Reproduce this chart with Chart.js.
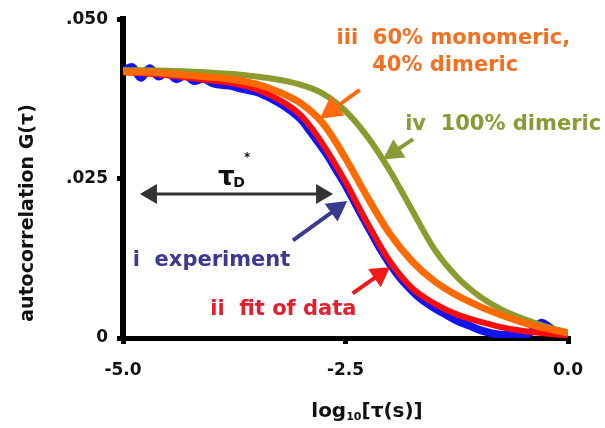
<!DOCTYPE html>
<html>
<head>
<meta charset="utf-8">
<script src="https://cdn.jsdelivr.net/npm/chart.js@4"></script>
<style>
  html, body { margin: 0; padding: 0; background: #fff; }
  canvas { display: block; }
</style>
</head>
<body>
<canvas id="fcsChart" width="605" height="428"></canvas>
<script>
// Curvas de autocorrelación
const logTau = [-5, -4.75, -4.5, -4.25, -4, -3.75, -3.5, -3.25, -3, -2.75, -2.5,
  -2.25, -2, -1.75, -1.5, -1.25, -1, -0.75, -0.5, -0.25, 0];
const fitG = [0.0417, 0.0415, 0.0412, 0.0408, 0.0404, 0.0399, 0.0390, 0.0374, 0.0349, 0.0303, 0.0245,
  0.0179, 0.0120, 0.0078, 0.0054, 0.0037, 0.0026, 0.0017, 0.0011, 0.0007, 0.0004];
const monoDimerG = [0.0418, 0.0417, 0.0415, 0.0412, 0.0409, 0.0405, 0.0398, 0.0386, 0.0368, 0.0336, 0.0282,
  0.0220, 0.0163, 0.0120, 0.0089, 0.0067, 0.0050, 0.0036, 0.0024, 0.0015, 0.0008];
const dimerG = [0.0420, 0.0420, 0.0419, 0.0418, 0.0416, 0.0414, 0.0410, 0.0405, 0.0397, 0.0383, 0.0356,
  0.0315, 0.0262, 0.0200, 0.0139, 0.0096, 0.0066, 0.0045, 0.0030, 0.0018, 0.0009];

// Datos experimentales
const expLogTau = [
  -5.0, -4.9, -4.8, -4.7, -4.6, -4.5, -4.4, -4.3, -4.2, -4.1,
  -4.0, -3.9, -3.8, -3.7, -3.6, -3.5, -3.4, -3.3, -3.2, -3.1,
  -3.0, -2.9, -2.8, -2.7, -2.6, -2.5, -2.4, -2.3, -2.2, -2.1,
  -2.0, -1.9, -1.8, -1.7, -1.6, -1.5, -1.4, -1.3, -1.2, -1.1,
  -1.0, -0.9, -0.8, -0.7, -0.6, -0.5, -0.4, -0.3, -0.2, -0.1, 0.0
];
const expG = [
  0.0418, 0.0425, 0.0408, 0.0423, 0.0410, 0.0417, 0.0406, 0.0412, 0.0403, 0.0407,
  0.0400, 0.0397, 0.0396, 0.0392, 0.0389, 0.0386, 0.0380, 0.0373, 0.0365, 0.0355,
  0.0343, 0.0325, 0.0306, 0.0286, 0.0263, 0.0240, 0.0214, 0.0188, 0.0163, 0.0138,
  0.0116, 0.0097, 0.0081, 0.0067, 0.0056, 0.0047, 0.0039, 0.0031, 0.0024, 0.0019,
  0.0013, 0.0009, 0.0006, 0.0005, 0.0007, 0.0004, 0.0011, 0.0024, 0.0016, 0.0005, 0.0002
];

// Ejes
const xTicks = [-5, -2.5, 0];
const xTickLabels = ['-5.0', '-2.5', '0.0'];
const yTicks = [0, 0.025, 0.05];
const yTickLabels = ['0', '.025', '.050'];

const FONT = '"DejaVu Sans", sans-serif';

const toPoints = (xs, ys) => xs.map((x, i) => ({ x: x, y: ys[i] }));

// Anotaciones (coordenadas en unidades de los ejes)
const notes = [
  { text: 'iii  60% monomeric,', x: -2.60, y: 0.0469, color: '#F36F21' },
  { text: '40% dimeric', x: -2.20, y: 0.0428, color: '#F36F21' },
  { text: 'iv  100% dimeric', x: -1.83, y: 0.0335, color: '#8C9A35' },
  { text: 'i  experiment', x: -4.89, y: 0.0122, color: '#3A3A8E' },
  { text: 'ii  fit of data', x: -4.02, y: 0.0044, color: '#E5202E' },
];
const arrows = [
  { from: [-4.81, 0.0226], to: [-2.64, 0.0226], color: '#333333', width: 3, len: 17, half: 10, both: true },
  { from: [-3.09, 0.0153], to: [-2.48, 0.0215], color: '#3A3A8E', width: 4, len: 20, half: 11 },
  { from: [-2.42, 0.0070], to: [-2.00, 0.0111], color: '#F01818', width: 4, len: 19, half: 11 },
  { from: [-2.34, 0.0389], to: [-2.79, 0.0344], color: '#FF6A10', width: 4, len: 22, half: 12 },
  { from: [-1.74, 0.0312], to: [-2.08, 0.0280], color: '#8C9A35', width: 4, len: 20, half: 11 },
];

function drawHead(ctx, x0, y0, x1, y1, len, half) {
  const a = Math.atan2(y1 - y0, x1 - x0);
  ctx.beginPath();
  ctx.moveTo(x1, y1);
  ctx.lineTo(x1 - len * Math.cos(a) + half * Math.sin(a), y1 - len * Math.sin(a) - half * Math.cos(a));
  ctx.lineTo(x1 - len * Math.cos(a) - half * Math.sin(a), y1 - len * Math.sin(a) + half * Math.cos(a));
  ctx.closePath();
  ctx.fill();
}

const annotationsPlugin = {
  id: 'annotations',
  afterDraw(chart) {
    const ctx = chart.ctx;
    const xs = chart.scales.x, ys = chart.scales.y;
    ctx.save();

    // Flechas
    arrows.forEach(a => {
      const x0 = xs.getPixelForValue(a.from[0]), y0 = ys.getPixelForValue(a.from[1]);
      const x1 = xs.getPixelForValue(a.to[0]), y1 = ys.getPixelForValue(a.to[1]);
      const ang = Math.atan2(y1 - y0, x1 - x0);
      const sx = a.both ? x0 + (a.len - 2) * Math.cos(ang) : x0;
      const sy = a.both ? y0 + (a.len - 2) * Math.sin(ang) : y0;
      ctx.strokeStyle = a.color;
      ctx.fillStyle = a.color;
      ctx.lineWidth = a.width;
      ctx.beginPath();
      ctx.moveTo(sx, sy);
      ctx.lineTo(x1 - (a.len - 2) * Math.cos(ang), y1 - (a.len - 2) * Math.sin(ang));
      ctx.stroke();
      drawHead(ctx, x0, y0, x1, y1, a.len, a.half);
      if (a.both) drawHead(ctx, x1, y1, x0, y0, a.len, a.half);
    });

    // Textos
    ctx.font = 'bold 21px ' + FONT;
    ctx.textAlign = 'left';
    ctx.textBaseline = 'middle';
    notes.forEach(n => {
      ctx.fillStyle = n.color;
      ctx.fillText(n.text, xs.getPixelForValue(n.x), ys.getPixelForValue(n.y));
    });

    // tau_D*
    ctx.fillStyle = '#111';
    ctx.textAlign = 'center';
    ctx.font = 'bold 26px ' + FONT;
    ctx.fillText('τ', xs.getPixelForValue(-3.84), ys.getPixelForValue(0.0251));
    ctx.textAlign = 'left';
    ctx.font = 'bold 14px ' + FONT;
    ctx.fillText('D', xs.getPixelForValue(-3.76), ys.getPixelForValue(0.0243));
    ctx.font = 'bold 12px ' + FONT;
    ctx.fillText('*', xs.getPixelForValue(-3.64), ys.getPixelForValue(0.0283));

    // Títulos de ejes
    ctx.fillStyle = '#111';
    ctx.save();
    ctx.translate(28, 213);
    ctx.rotate(-Math.PI / 2);
    ctx.textAlign = 'center';
    ctx.font = 'bold 19px ' + FONT;
    ctx.fillText('autocorrelation G(τ)', 0, 0);
    ctx.restore();

    const big = 'bold 20px ' + FONT, small = 'bold 11px ' + FONT;
    ctx.font = big;
    const wLog = ctx.measureText('log').width;
    const wRest = ctx.measureText('[τ(s)]').width;
    ctx.font = small;
    const wSub = ctx.measureText('10').width;
    let tx = 367 - (wLog + wSub + wRest) / 2;
    const ty = 412;
    ctx.textAlign = 'left';
    ctx.font = big;
    ctx.fillText('log', tx, ty);
    tx += wLog;
    ctx.font = small;
    ctx.fillText('10', tx, ty + 5);
    tx += wSub;
    ctx.font = big;
    ctx.fillText('[τ(s)]', tx, ty);

    ctx.restore();
  }
};

const ctx = document.getElementById('fcsChart').getContext('2d');
new Chart(ctx, {
  type: 'line',
  data: {
    datasets: [
      {
        label: 'i experiment',
        data: toPoints(expLogTau, expG),
        borderColor: '#1414F0',
        borderWidth: 8,
        pointRadius: 0,
        cubicInterpolationMode: 'monotone',
        order: 4,
      },
      {
        label: 'ii fit of data',
        data: toPoints(logTau, fitG),
        borderColor: '#FF0A0A',
        borderWidth: 6,
        pointRadius: 0,
        cubicInterpolationMode: 'monotone',
        order: 3,
      },
      {
        label: 'iv 100% dimeric',
        data: toPoints(logTau, dimerG),
        borderColor: '#8C9A2E',
        borderWidth: 6,
        pointRadius: 0,
        cubicInterpolationMode: 'monotone',
        order: 2,
      },
      {
        label: 'iii 60% monomeric, 40% dimeric',
        data: toPoints(logTau, monoDimerG),
        borderColor: '#FF6A00',
        borderWidth: 7,
        pointRadius: 0,
        cubicInterpolationMode: 'monotone',
        order: 1,
      },
    ],
  },
  options: {
    responsive: false,
    animation: false,
    layout: { padding: { top: 17, right: 37, left: 0, bottom: 0 } },
    plugins: {
      legend: { display: false },
      tooltip: { enabled: false },
    },
    scales: {
      x: {
        type: 'linear',
        min: -5,
        max: 0,
        afterFit: s => { s.height = 90; },
        afterBuildTicks: s => { s.ticks = xTicks.map(v => ({ value: v })); },
        ticks: {
          callback: (v) => xTickLabels[xTicks.indexOf(v)],
          color: '#111',
          font: { family: FONT, size: 17, weight: 'bold' },
          padding: 16,
          maxRotation: 0,
        },
        grid: { drawOnChartArea: false, tickLength: 6, lineWidth: 5, color: '#000' },
        border: { display: true, width: 5, color: '#000' },
      },
      y: {
        type: 'linear',
        min: 0,
        max: 0.05,
        afterFit: s => { s.width = 123; },
        afterBuildTicks: s => { s.ticks = yTicks.map(v => ({ value: v })); },
        ticks: {
          callback: (v) => yTickLabels[yTicks.indexOf(v)],
          color: '#111',
          font: { family: FONT, size: 17, weight: 'bold' },
          padding: 9,
        },
        grid: { drawOnChartArea: false, tickLength: 6, lineWidth: 5, color: '#000' },
        border: { display: true, width: 6, color: '#000' },
      },
    },
  },
  plugins: [annotationsPlugin],
});
</script>
</body>
</html>
